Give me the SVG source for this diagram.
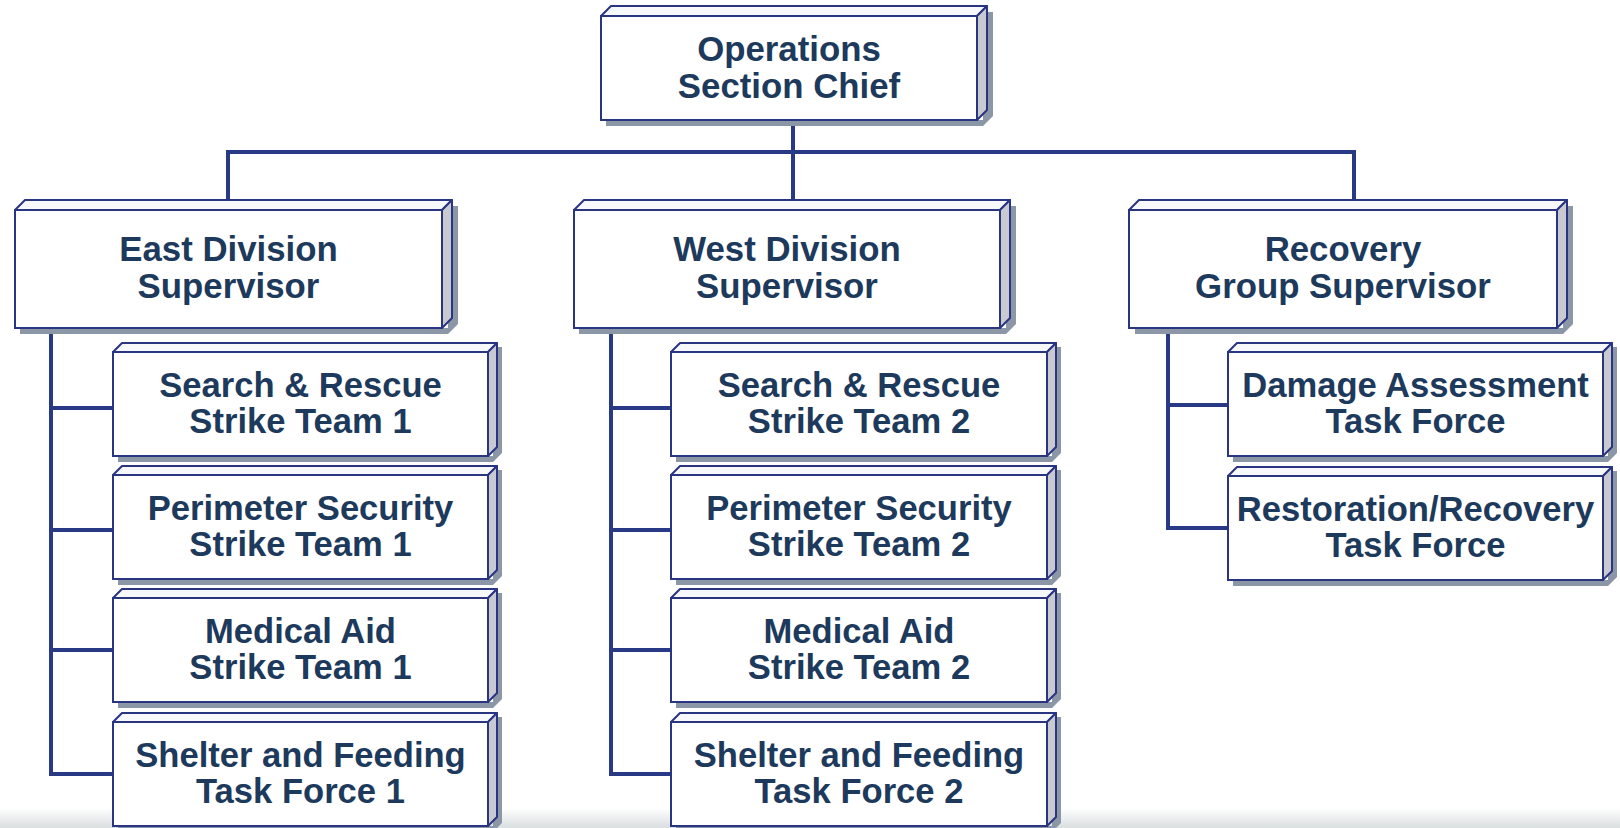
<svg xmlns="http://www.w3.org/2000/svg" width="1620" height="828" viewBox="0 0 1620 828">
<defs>
<linearGradient id="band" x1="0" y1="0" x2="0" y2="1">
<stop offset="0" stop-color="#ffffff"/>
<stop offset="1" stop-color="#d9dedf"/>
</linearGradient>
</defs>
<style>
.shadow{fill:#8b96a6}
.front{fill:#ffffff;stroke:#2a3582;stroke-width:2}
.top{fill:#f7f8fc;stroke:#2a3582;stroke-width:2;stroke-linejoin:round}
.side{fill:#c9cad1;stroke:#2a3582;stroke-width:2;stroke-linejoin:round}
.conn{fill:none;stroke:#283a85;stroke-width:4;stroke-linecap:square}
text{font-family:"Liberation Sans",Arial,sans-serif;font-weight:bold;fill:#1d3a5c;text-anchor:middle}
.t1{font-size:34.8px}
.t2{font-size:34.6px}
</style>
<rect x="0" y="0" width="1620" height="828" fill="#ffffff"/>
<rect x="0" y="808" width="1620" height="20" fill="url(#band)"/>

<g id="connectors">
<path class="conn" d="M793 120V152M228 152H1354M228 152V199M793 152V199M1354 152V199"/>
<path class="conn" d="M51 328V774H113M51 408H113M51 530H113M51 650H113"/>
<path class="conn" d="M611 328V774H671M611 408H671M611 530H671M611 650H671"/>
<path class="conn" d="M1168 328V528H1228M1168 405H1228"/>
</g>

<g id="chief">
<path class="shadow" d="M606 120V126H983L993 116V12H983V120Z"/>
<path class="top" d="M601 16L611 6H987L977 16Z"/>
<path class="side" d="M977 16L987 6V110L977 120Z"/>
<rect class="front" x="601" y="16" width="376" height="104"/>
<text class="t1" x="789" y="61">Operations</text>
<text class="t1" x="789" y="97.5">Section Chief</text>
</g>

<g id="east">
<path class="shadow" d="M20 328V334H448L458 324V206H448V328Z"/>
<path class="top" d="M15 210L25 200H452L442 210Z"/>
<path class="side" d="M442 210L452 200V318L442 328Z"/>
<rect class="front" x="15" y="210" width="427" height="118"/>
<text class="t1" x="228.5" y="261">East Division</text>
<text class="t1" x="228.5" y="297.5">Supervisor</text>
</g>

<g id="west">
<path class="shadow" d="M579 328V334H1006L1016 324V206H1006V328Z"/>
<path class="top" d="M574 210L584 200H1010L1000 210Z"/>
<path class="side" d="M1000 210L1010 200V318L1000 328Z"/>
<rect class="front" x="574" y="210" width="426" height="118"/>
<text class="t1" x="787" y="261">West Division</text>
<text class="t1" x="787" y="297.5">Supervisor</text>
</g>

<g id="recovery">
<path class="shadow" d="M1135 328V334H1563L1573 324V206H1563V328Z"/>
<path class="top" d="M1129 210L1139 200H1567L1557 210Z"/>
<path class="side" d="M1557 210L1567 200V318L1557 328Z"/>
<rect class="front" x="1129" y="210" width="428" height="118"/>
<text class="t1" x="1343" y="261">Recovery</text>
<text class="t1" x="1343" y="297.5">Group Supervisor</text>
</g>

<g id="east-sr">
<path class="shadow" d="M118 456V462H493L502 453V347H493V456Z"/>
<path class="top" d="M113 352L122 343H497L488 352Z"/>
<path class="side" d="M488 352L497 343V447L488 456Z"/>
<rect class="front" x="113" y="352" width="375" height="104"/>
<text class="t2" x="300.5" y="397">Search &amp; Rescue</text>
<text class="t2" x="300.5" y="433">Strike Team 1</text>
</g>
<g id="east-ps">
<path class="shadow" d="M118 579V585H493L502 576V470H493V579Z"/>
<path class="top" d="M113 475L122 466H497L488 475Z"/>
<path class="side" d="M488 475L497 466V570L488 579Z"/>
<rect class="front" x="113" y="475" width="375" height="104"/>
<text class="t2" x="300.5" y="520">Perimeter Security</text>
<text class="t2" x="300.5" y="556">Strike Team 1</text>
</g>
<g id="east-ma">
<path class="shadow" d="M118 702V708H493L502 699V593H493V702Z"/>
<path class="top" d="M113 598L122 589H497L488 598Z"/>
<path class="side" d="M488 598L497 589V693L488 702Z"/>
<rect class="front" x="113" y="598" width="375" height="104"/>
<text class="t2" x="300.5" y="643">Medical Aid</text>
<text class="t2" x="300.5" y="679">Strike Team 1</text>
</g>
<g id="east-sf">
<path class="shadow" d="M118 826V832H493L502 823V717H493V826Z"/>
<path class="top" d="M113 722L122 713H497L488 722Z"/>
<path class="side" d="M488 722L497 713V817L488 826Z"/>
<rect class="front" x="113" y="722" width="375" height="104"/>
<text class="t2" x="300.5" y="767">Shelter and Feeding</text>
<text class="t2" x="300.5" y="803">Task Force 1</text>
</g>

<g id="west-sr">
<path class="shadow" d="M676 456V462H1052L1061 453V347H1052V456Z"/>
<path class="top" d="M671 352L680 343H1056L1047 352Z"/>
<path class="side" d="M1047 352L1056 343V447L1047 456Z"/>
<rect class="front" x="671" y="352" width="376" height="104"/>
<text class="t2" x="859" y="397">Search &amp; Rescue</text>
<text class="t2" x="859" y="433">Strike Team 2</text>
</g>
<g id="west-ps">
<path class="shadow" d="M676 579V585H1052L1061 576V470H1052V579Z"/>
<path class="top" d="M671 475L680 466H1056L1047 475Z"/>
<path class="side" d="M1047 475L1056 466V570L1047 579Z"/>
<rect class="front" x="671" y="475" width="376" height="104"/>
<text class="t2" x="859" y="520">Perimeter Security</text>
<text class="t2" x="859" y="556">Strike Team 2</text>
</g>
<g id="west-ma">
<path class="shadow" d="M676 702V708H1052L1061 699V593H1052V702Z"/>
<path class="top" d="M671 598L680 589H1056L1047 598Z"/>
<path class="side" d="M1047 598L1056 589V693L1047 702Z"/>
<rect class="front" x="671" y="598" width="376" height="104"/>
<text class="t2" x="859" y="643">Medical Aid</text>
<text class="t2" x="859" y="679">Strike Team 2</text>
</g>
<g id="west-sf">
<path class="shadow" d="M676 826V832H1052L1061 823V717H1052V826Z"/>
<path class="top" d="M671 722L680 713H1056L1047 722Z"/>
<path class="side" d="M1047 722L1056 713V817L1047 826Z"/>
<rect class="front" x="671" y="722" width="376" height="104"/>
<text class="t2" x="859" y="767">Shelter and Feeding</text>
<text class="t2" x="859" y="803">Task Force 2</text>
</g>

<g id="rec-da">
<path class="shadow" d="M1233 456V462H1608L1617 453V347H1608V456Z"/>
<path class="top" d="M1228 352L1237 343H1612L1603 352Z"/>
<path class="side" d="M1603 352L1612 343V447L1603 456Z"/>
<rect class="front" x="1228" y="352" width="375" height="104"/>
<text class="t2" x="1415.5" y="397">Damage Assessment</text>
<text class="t2" x="1415.5" y="433">Task Force</text>
</g>
<g id="rec-rr">
<path class="shadow" d="M1233 580V586H1608L1617 577V471H1608V580Z"/>
<path class="top" d="M1228 476L1237 467H1612L1603 476Z"/>
<path class="side" d="M1603 476L1612 467V571L1603 580Z"/>
<rect class="front" x="1228" y="476" width="375" height="104"/>
<text class="t2" x="1415.5" y="521">Restoration/Recovery</text>
<text class="t2" x="1415.5" y="557">Task Force</text>
</g>
</svg>
